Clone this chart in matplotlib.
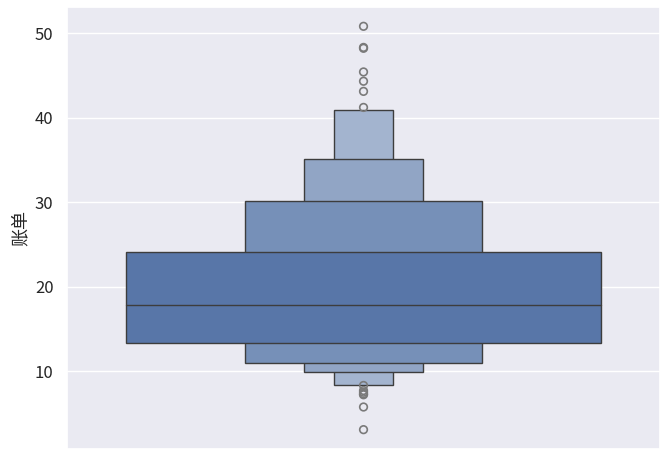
import matplotlib.pyplot as plt
from matplotlib.patches import Rectangle
import seaborn as sns

sns.set_theme(style='darkgrid')
plt.rcParams['font.family'] = ['Noto Sans CJK SC', 'DejaVu Sans']

# letter-value boxes, innermost first
box_low = [13.3, 10.9, 9.9, 8.4]
box_high = [24.1, 30.1, 35.1, 40.9]
box_width = [0.8, 0.4, 0.2, 0.1]
box_color = ['#5876a8', '#7690b8', '#91a5c5', '#a3b4cf']
median = 17.8
outliers = [41.2, 43.1, 44.3, 45.4, 48.2, 48.3, 50.8,
            8.3, 7.7, 7.5, 7.3, 7.2, 5.75, 3.07]

fig, ax = plt.subplots(figsize=(6.67, 4.58), dpi=100)
fig.subplots_adjust(left=0.1, right=0.99, top=0.985, bottom=0.02)

for lo, hi, w, c in reversed(list(zip(box_low, box_high, box_width, box_color))):
    ax.add_patch(Rectangle((-w / 2, lo), w, hi - lo, facecolor=c,
                           edgecolor='#3d3d3d', linewidth=1, zorder=2))
ax.plot([-0.4, 0.4], [median, median], color='#3d3d3d', lw=1, zorder=3)
ax.scatter([0] * len(outliers), outliers, s=30, facecolors='none',
           edgecolors='#7a7a7a', linewidths=1.2, zorder=3)

ax.set_xlim(-0.5, 0.5)
ax.set_ylim(0.8, 53.1)
ax.set_xticks([])
ax.set_yticks([10, 20, 30, 40, 50])
ax.tick_params(axis='y', labelsize=12)
ax.set_ylabel('账单', fontsize=13)

fig.savefig('out.png')
